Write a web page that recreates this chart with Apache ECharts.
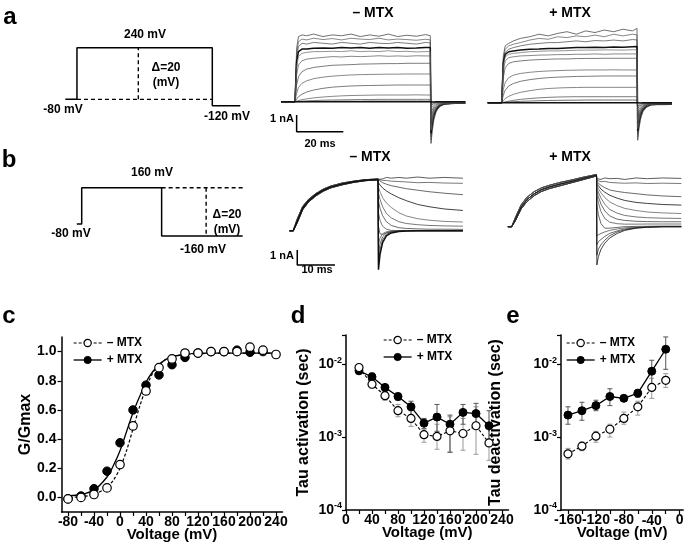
<!DOCTYPE html>
<html>
<head>
<meta charset="utf-8">
<script src="https://cdn.jsdelivr.net/npm/echarts@6/dist/echarts.min.js"></script>
<style>
  html, body { margin: 0; padding: 0; background: #fff; }
  #main { width: 685px; height: 550px; }
</style>
</head>
<body>
<div id="main"></div>
<script>
// ---- protocol (a, b): time (ms) / voltage (mV)
const protoATime = [-5, 0, 0, 58, 58, 70];
const protoAVolt = [-80, -80, 240, 240, -120, -120];
const protoADashH = [[0, -80], [58, -80]];
const protoADashV = [[26.3, -80], [26.3, 240]];
const protoBTime = [-1.3, 0, 0, 21.2, 21.2, 42.7];
const protoBVolt = [-80, -80, 160, 160, -160, -160];
const protoBDashH = [[21.2, 160], [42.7, 160]];
const protoBDashV = [[33, 160], [33, -160]];

// ---- current traces panel a (nA), sampled at tA (ms)
const tA = [-6, 0, 0.7, 1.5, 3, 5, 8, 12, 16, 20, 24, 28, 32, 36, 40, 44, 48, 52, 56, 58,
  58.3, 58.8, 59.5, 60.5, 62, 64, 67, 70, 73];
const aMinusTraces = [
  [0,0,3.2,3.9,4.0,3.95,4.05,3.9,4.0,3.95,4.05,3.9,4.0,3.92,4.05,3.9,3.98,3.92,4.02,3.95, -2.5,-1.8,-1.1,-0.6,-0.3,-0.15,-0.12,-0.1,-0.1],
  [0,0,2.9,3.6,3.75,3.7,3.8,3.72,3.78,3.7,3.8,3.75,3.72,3.8,3.7,3.75,3.72,3.68,3.74,3.7, -2.3,-1.6,-1.0,-0.55,-0.28,-0.15,-0.12,-0.1,-0.1],
  [0,0,2.6,3.3,3.5,3.45,3.55,3.5,3.45,3.55,3.5,3.45,3.55,3.5,3.48,3.55,3.5,3.45,3.55,3.52, -2.1,-1.5,-0.9,-0.5,-0.25,-0.14,-0.11,-0.1,-0.1],
  [0,0,2.4,3.0,3.15,3.15,3.2,3.22,3.2,3.25,3.22,3.25,3.2,3.25,3.22,3.25,3.2,3.22,3.25,3.24, -1.9,-1.3,-0.8,-0.45,-0.22,-0.12,-0.1,-0.1,-0.08],
  [0,0,2.1,2.7,2.9,2.95,3.0,3.0,3.02,3.0,3.05,3.0,3.02,3.0,3.05,3.0,3.02,2.98,3.0,3.0, -1.7,-1.2,-0.7,-0.4,-0.2,-0.1,-0.1,-0.08,-0.08],
  [0,0,1.6,2.2,2.45,2.55,2.6,2.65,2.7,2.68,2.72,2.7,2.72,2.75,2.72,2.74,2.72,2.75,2.74,2.74, -1.5,-1.0,-0.6,-0.35,-0.18,-0.1,-0.08,-0.08,-0.07],
  [0,0,1.0,1.5,1.8,1.95,2.05,2.12,2.18,2.2,2.22,2.25,2.26,2.27,2.28,2.28,2.3,2.3,2.3,2.3, -1.3,-0.85,-0.5,-0.3,-0.15,-0.08,-0.07,-0.06,-0.06],
  [0,0,0.5,0.85,1.1,1.25,1.38,1.47,1.53,1.57,1.6,1.62,1.63,1.64,1.65,1.65,1.66,1.66,1.66,1.66, -1.0,-0.7,-0.4,-0.22,-0.12,-0.06,-0.05,-0.05,-0.05],
  [0,0,0.15,0.3,0.45,0.58,0.7,0.8,0.87,0.91,0.94,0.96,0.97,0.98,0.99,1.0,1.0,1.0,1.0,1.0, -0.75,-0.5,-0.3,-0.16,-0.08,-0.04,-0.03,-0.03,-0.03],
  [0,0,0.03,0.07,0.12,0.17,0.23,0.28,0.32,0.35,0.37,0.38,0.39,0.4,0.4,0.4,0.4,0.41,0.4,0.4, -0.45,-0.3,-0.18,-0.1,-0.05,-0.03,-0.02,-0.02,-0.02],
  [0,0,0.01,0.02,0.03,0.05,0.07,0.09,0.1,0.11,0.12,0.13,0.13,0.14,0.14,0.14,0.14,0.14,0.14,0.14, -0.25,-0.16,-0.1,-0.05,-0.03,-0.02,-0.01,-0.01,-0.01],
  [0,0,0,0,0,0.01,0.01,0.02,0.02,0.03,0.03,0.03,0.04,0.04,0.04,0.04,0.04,0.04,0.04,0.04, -0.12,-0.08,-0.05,-0.03,-0.02,-0.01,-0.01,0,0],
  [0,0,0,0,0,0,0,0,0,0,0,0,0,0,0,0,0,0,0,0, -0.05,-0.03,-0.02,-0.01,0,0,0,0,0]
];
const aPlusTraces = [
  [0,0,2.8,3.4,3.55,3.7,3.85,3.95,4.1,4.0,4.15,4.25,4.1,4.3,4.2,4.35,4.25,4.4,4.3,4.45, -2.25,-1.6,-1.0,-0.55,-0.28,-0.15,-0.12,-0.12,-0.1],
  [0,0,2.6,3.2,3.4,3.5,3.6,3.75,3.85,3.8,3.95,3.9,4.0,3.95,4.05,3.95,4.1,4.0,4.1,4.06, -2.05,-1.45,-0.9,-0.5,-0.25,-0.13,-0.1,-0.1,-0.1],
  [0,0,2.5,3.0,3.2,3.3,3.4,3.5,3.55,3.6,3.6,3.65,3.7,3.65,3.72,3.7,3.75,3.7,3.78,3.76, -1.85,-1.3,-0.8,-0.45,-0.22,-0.12,-0.1,-0.1,-0.09],
  [0,0,2.4,2.9,3.05,3.1,3.15,3.2,3.22,3.25,3.25,3.28,3.3,3.3,3.32,3.3,3.34,3.32,3.35,3.36, -1.7,-1.2,-0.72,-0.4,-0.2,-0.1,-0.09,-0.09,-0.08],
  [0,0,2.2,2.75,2.9,2.95,3.0,3.05,3.08,3.1,3.1,3.12,3.14,3.15,3.15,3.16,3.16,3.15,3.17,3.16, -1.55,-1.1,-0.65,-0.36,-0.18,-0.1,-0.08,-0.08,-0.07],
  [0,0,1.9,2.5,2.7,2.75,2.8,2.82,2.85,2.86,2.88,2.88,2.9,2.9,2.92,2.9,2.92,2.92,2.92,2.92, -1.4,-0.95,-0.58,-0.32,-0.16,-0.08,-0.07,-0.07,-0.06],
  [0,0,1.5,2.1,2.35,2.45,2.5,2.55,2.58,2.6,2.62,2.62,2.64,2.65,2.65,2.66,2.66,2.66,2.66,2.66, -1.25,-0.85,-0.5,-0.28,-0.14,-0.07,-0.06,-0.06,-0.05],
  [0,0,0.8,1.2,1.5,1.65,1.75,1.82,1.87,1.9,1.92,1.94,1.95,1.96,1.96,1.96,1.97,1.96,1.96,1.96, -1.05,-0.7,-0.42,-0.23,-0.12,-0.06,-0.05,-0.05,-0.05],
  [0,0,0.45,0.75,1.0,1.15,1.28,1.38,1.45,1.5,1.53,1.55,1.57,1.58,1.59,1.6,1.6,1.6,1.6,1.6, -0.85,-0.58,-0.34,-0.19,-0.1,-0.05,-0.04,-0.04,-0.04],
  [0,0,0.12,0.25,0.38,0.5,0.62,0.72,0.8,0.85,0.88,0.9,0.91,0.92,0.92,0.92,0.92,0.92,0.92,0.92, -0.6,-0.4,-0.24,-0.13,-0.07,-0.03,-0.03,-0.02,-0.02],
  [0,0,0.02,0.05,0.09,0.14,0.2,0.25,0.29,0.32,0.34,0.35,0.36,0.36,0.36,0.36,0.36,0.36,0.36,0.36, -0.35,-0.23,-0.14,-0.08,-0.04,-0.02,-0.02,-0.01,-0.01],
  [0,0,0.01,0.02,0.04,0.06,0.08,0.1,0.12,0.13,0.14,0.15,0.15,0.16,0.16,0.16,0.16,0.16,0.16,0.16, -0.2,-0.13,-0.08,-0.04,-0.02,-0.01,-0.01,0,0],
  [0,0,0,0,0,0,0,0,0,0,0,0,0,0,0,0,0,0,0,0, -0.05,-0.03,-0.02,-0.01,0,0,0,0,0]
];

// ---- current traces panel b (nA): activation at 160 mV, then tails 160 ... -160 mV
const tB = [-1, 0, 1, 2.5, 4, 6, 8, 10, 13, 16, 19, 22.5,
  22.6, 23, 23.7, 24.7, 26, 28, 30, 33, 36, 40, 45];
const bMinusAct = [
  [0,0,0.6,1.5,1.98,2.4,2.7,2.92,3.12,3.27,3.36,3.42],
  [0,0,0.75,1.62,2.08,2.48,2.78,2.98,3.18,3.3,3.4,3.45],
  [0,0,0.5,1.4,1.9,2.32,2.64,2.86,3.06,3.22,3.33,3.4]
];
const bMinusTails = [
  [3.45,3.5,3.45,3.55,3.5,3.55,3.5,3.58,3.5,3.55,3.5],
  [3.4,3.38,3.35,3.35,3.3,3.28,3.25,3.2,3.22,3.18,3.16],
  [3.35,3.3,3.2,3.1,3.0,2.9,2.8,2.7,2.6,2.5,2.4],
  [3.2,3.05,2.85,2.65,2.45,2.2,2.0,1.75,1.6,1.45,1.35],
  [2.9,2.6,2.2,1.85,1.55,1.2,0.98,0.8,0.7,0.62,0.58],
  [2.5,2.1,1.6,1.15,0.85,0.6,0.48,0.4,0.35,0.32,0.3],
  [2.0,1.5,1.0,0.6,0.35,0.2,0.15,0.12,0.1,0.1,0.09],
  [1.2,0.7,0.3,0.1,0.02,0,0,0,0,0,0],
  [0.3,-0.2,-0.25,-0.15,-0.08,-0.03,0,0,0,0,0],
  [-0.9,-0.5,-0.2,-0.07,-0.02,0,0,0,0,0,0],
  [-1.6,-0.9,-0.4,-0.15,-0.05,-0.02,0,0,0,0,0],
  [-2.2,-1.3,-0.6,-0.25,-0.1,-0.03,0,0,0,0,0],
  [-2.6,-1.6,-0.8,-0.35,-0.15,-0.05,-0.02,0,0,0,0]
];
const bPlusAct = [
  [0,0,0.5,1.3,1.8,2.2,2.48,2.65,2.85,3.03,3.22,3.44],
  [0,0,0.62,1.45,1.95,2.34,2.6,2.76,2.96,3.12,3.3,3.48],
  [0,0,0.4,1.18,1.66,2.08,2.36,2.54,2.74,2.94,3.14,3.38]
];
const bPlusTails = [
  [3.2,3.25,3.15,3.25,3.2,3.22,3.15,3.25,3.2,3.25,3.22],
  [3.1,3.05,3.0,3.02,2.95,2.92,2.9,2.92,2.88,2.9,2.88],
  [3.0,2.9,2.75,2.6,2.45,2.35,2.28,2.2,2.12,2.05,2.0],
  [2.9,2.75,2.5,2.3,2.1,1.9,1.75,1.62,1.55,1.48,1.44],
  [2.8,2.55,2.25,1.95,1.65,1.4,1.22,1.08,0.98,0.92,0.88],
  [2.6,2.3,1.9,1.5,1.15,0.9,0.75,0.65,0.6,0.57,0.55],
  [2.4,2.0,1.5,1.05,0.72,0.5,0.42,0.36,0.34,0.33,0.33],
  [2.1,1.6,1.0,0.55,0.3,0.2,0.17,0.17,0.18,0.18,0.18],
  [1.5,0.8,0.2,-0.1,-0.1,-0.05,0,0.02,0.03,0.04,0.04],
  [-0.6,-0.55,-0.45,-0.35,-0.25,-0.15,-0.08,-0.03,0,0,0],
  [-1.2,-1.0,-0.85,-0.65,-0.45,-0.28,-0.15,-0.06,-0.02,0,0],
  [-1.9,-1.5,-1.2,-0.9,-0.6,-0.35,-0.2,-0.08,-0.03,0,0],
  [-2.55,-2.0,-1.5,-1.1,-0.75,-0.45,-0.25,-0.1,-0.04,0,0]
];

// scale bars: [ms, nA]
const scaleBarA = [[0.7, -0.8], [0.7, -1.8], [20.7, -1.8]];
const scaleBarB = [[1.06, -1.29], [1.06, -2.29], [11.06, -2.29]];

// ---- panel c: G/Gmax
const cVolt = [-80,-60,-40,-20,0,20,40,60,80,100,120,140,160,180,200,220,240];
const cMinus = [-0.01,0.0,0.02,0.065,0.225,0.49,0.73,0.89,0.95,0.99,0.99,1.0,1.0,1.0,1.03,1.01,0.98];
const cPlus = [-0.01,0.01,0.06,0.18,0.375,0.60,0.77,0.84,0.91,0.96,0.99,1.0,1.0,1.01,0.995,1.0];
const cFitVolt = [-85,-80,-60,-40,-20,-10,0,10,20,30,40,50,60,70,80,100,120,160,200,240];
const cFitMinus = [0.0,0.0,0.005,0.02,0.07,0.12,0.2,0.32,0.47,0.62,0.75,0.85,0.91,0.945,0.965,0.98,0.985,0.99,0.99,0.99];
const cFitPlus = [0.005,0.01,0.02,0.05,0.14,0.22,0.32,0.45,0.58,0.69,0.79,0.86,0.91,0.945,0.965,0.98,0.99,0.99,0.99,0.99];
const cXTicks = [-80,-60,-40,-20,0,20,40,60,80,100,120,140,160,180,200,220,240];
const cXLabelStep = 40;
const cYLabels = [0,0.2,0.4,0.6,0.8,1.0];

// ---- panel d: tau activation (s)
const dVolt = [20,40,60,80,100,120,140,160,180,200,220];
const dMinus = [0.0090,0.0053,0.0037,0.0023,0.0018,0.00108,0.00102,0.00122,0.00112,0.00143,0.00083];
const dMinusLo = [0.0082,0.0047,0.0032,0.0019,0.0014,0.00085,0.00068,0.00062,0.00066,0.00058,0.00048];
const dMinusHi = [0.0098,0.0058,0.0043,0.0028,0.0023,0.0013,0.0015,0.0019,0.0018,0.0026,0.0013];
const dPlus = [0.0081,0.0067,0.0048,0.0036,0.0026,0.00155,0.00188,0.00150,0.00218,0.0021,0.00143];
const dPlusLo = [0.0074,0.0058,0.0042,0.0032,0.0020,0.0013,0.0012,0.00062,0.0015,0.0015,0.0009];
const dPlusHi = [0.0088,0.0076,0.0052,0.0040,0.0031,0.0018,0.0028,0.0020,0.0028,0.0029,0.0023];
const dXTicks = [0,20,40,60,80,100,120,140,160,180,200,220,240];

// ---- panel e: tau deactivation (s)
const eVolt = [-160,-140,-120,-100,-80,-60,-40,-20];
const eMinus = [0.00059,0.00075,0.00103,0.00128,0.0018,0.0026,0.0048,0.0060];
const eMinusLo = [0.0005,0.00065,0.00085,0.001,0.0015,0.002,0.0034,0.0048];
const eMinusHi = [0.0007,0.00085,0.0012,0.0015,0.0022,0.0031,0.0064,0.0074];
const ePlus = [0.0020,0.0023,0.0027,0.0036,0.0034,0.0040,0.0080,0.016];
const ePlusLo = [0.0015,0.0017,0.0023,0.0027,0.0032,0.0035,0.0048,0.0085];
const ePlusHi = [0.0026,0.0030,0.0032,0.0046,0.0036,0.0045,0.0113,0.0236];
const eXTicks = [-160,-140,-120,-100,-80,-60,-40,-20,0];
const eXLabels = [-160,-120,-80,0];
const eXLabelsExtra = [-40];   // placed from the axis scale after the first render

const FONT = '"Liberation Sans", Arial, sans-serif';

const chart = echarts.init(document.getElementById('main'), null, { renderer: 'canvas' });

// grid index: 0 protoA, 1 aMinus, 2 aPlus, 3 protoB, 4 bMinus, 5 bPlus, 6 c, 7 d, 8 e
const grids = [
  { left: 65.3, top: 44.5, width: 175, height: 64.5 },
  { left: 281, top: 26.55, width: 184.3, height: 125.25 },
  { left: 487.7, top: 27.55, width: 184.3, height: 125.25 },
  { left: 76.8, top: 184.7, width: 165.9, height: 54.4 },
  { left: 289.5, top: 170.7, width: 173.4, height: 105 },
  { left: 507.9, top: 166.7, width: 173.4, height: 105 },
  { left: 61.5, top: 337, width: 221, height: 175 },
  { left: 346, top: 335, width: 162.5, height: 175 },
  { left: 561, top: 335, width: 122.2, height: 175 }
].map(g => Object.assign({ outerBoundsMode: 'none', containLabel: false }, g));

function hiddenX(gridIndex, min, max) {
  return { type: 'value', gridIndex, min, max, show: false };
}
function hiddenY(gridIndex, min, max) {
  return { type: 'value', gridIndex, min, max, show: false };
}

const LABEL_MARGIN = 3;
const axisLineStyle = { show: true, onZero: false, lineStyle: { color: '#000', width: 1.5 } };
const tickStyle = { show: true, inside: false, length: 4, lineStyle: { color: '#000', width: 1.2 } };
const labelStyle = {
  color: '#000', fontFamily: FONT, fontWeight: 'bold', fontSize: 14,
  hideOverlap: false
};
const nameStyle = { color: '#000', fontFamily: FONT, fontWeight: 'bold', fontSize: 15 };
const voltFormatter = v => (Math.round(v) % cXLabelStep === 0 ? String(Math.round(v)) : '');

function voltAxis(gridIndex, min, max, ticks, labels) {
  return {
    type: 'value', gridIndex, min, max, position: 'bottom',
    name: 'Voltage (mV)', nameLocation: 'middle', nameGap: 15, nameMoveOverlap: false,
    nameTextStyle: nameStyle,
    axisLine: axisLineStyle,
    axisTick: Object.assign({ customValues: ticks }, tickStyle),
    axisLabel: Object.assign({ customValues: labels, margin: LABEL_MARGIN, formatter: voltFormatter }, labelStyle),
    splitLine: { show: false }
  };
}

function logFormatter(v) {
  const l = Math.log10(v);
  const p = Math.round(l);
  if (Math.abs(l - p) > 1e-6) return '';
  return '{b|10}{s|' + p + '}';
}
function tauAxis(gridIndex, name, gap) {
  return {
    type: 'log', logBase: 10, gridIndex, min: 1e-4, max: 0.0251,
    name, nameLocation: 'middle', nameGap: gap, nameMoveOverlap: false,
    nameTextStyle: Object.assign({}, nameStyle, { fontSize: 16 }),
    axisLine: axisLineStyle,
    axisTick: tickStyle,
    axisLabel: {
      formatter: logFormatter, margin: 4, hideOverlap: false,
      rich: {
        b: { fontFamily: FONT, fontWeight: 'bold', fontSize: 14, color: '#000' },
        s: { fontFamily: FONT, fontWeight: 'bold', fontSize: 9, color: '#000', padding: [0, 0, 8, 0] }
      }
    },
    splitLine: { show: false },
    minorTick: { show: false }
  };
}

const xAxes = [
  hiddenX(0, -5, 70), hiddenX(1, -6, 73), hiddenX(2, -6, 73),
  hiddenX(3, -1.3, 42.7), hiddenX(4, -1, 45), hiddenX(5, -1, 45),
  voltAxis(6, -90, 250, cXTicks, cXTicks),
  voltAxis(7, 0, 250, dXTicks, dXTicks),
  voltAxis(8, -170, 5, eXTicks, eXLabels)
];
const yAxes = [
  hiddenY(0, -140, 260), hiddenY(1, -3, 4.5), hiddenY(2, -3, 4.5),
  hiddenY(3, -180, 180), hiddenY(4, -3, 4), hiddenY(5, -3, 4),
  {
    type: 'value', gridIndex: 6, min: -0.1, max: 1.1,
    name: 'G/Gmax', nameLocation: 'middle', nameGap: 28, nameMoveOverlap: false,
    nameTextStyle: Object.assign({}, nameStyle, { fontSize: 16 }),
    axisLine: axisLineStyle,
    axisTick: Object.assign({ customValues: cYLabels }, tickStyle),
    axisLabel: Object.assign({ customValues: cYLabels, margin: 5, formatter: v => v.toFixed(1) }, labelStyle),
    splitLine: { show: false }
  },
  tauAxis(7, 'Tau activation (sec)', 34),
  tauAxis(8, 'Tau deactivation (sec)', 57)
];

const series = [];
function pairs(xs, ys) { return xs.map((x, i) => [x, ys[i]]); }
function plainLine(gi, data, opts) {
  return Object.assign({
    type: 'line', xAxisIndex: gi, yAxisIndex: gi, data,
    showSymbol: false, symbol: 'none', silent: true, animation: false,
    lineStyle: { color: '#000', width: 1.5 }, z: 2
  }, opts || {});
}

// protocols
series.push(plainLine(0, pairs(protoATime, protoAVolt)));
series.push(plainLine(0, protoADashH, { lineStyle: { color: '#000', width: 1.4, type: [4, 3] } }));
series.push(plainLine(0, protoADashV, { lineStyle: { color: '#000', width: 1.4, type: [4, 3] } }));
series.push(plainLine(3, pairs(protoBTime, protoBVolt)));
series.push(plainLine(3, protoBDashH, { lineStyle: { color: '#000', width: 1.4, type: [4, 3] } }));
series.push(plainLine(3, protoBDashV, { lineStyle: { color: '#000', width: 1.4, type: [4, 3] } }));

// traces
const traceGrey = ['#333', '#555', '#444', '#111', '#666', '#555', '#444', '#555', '#444', '#555', '#444', '#333', '#111'];
aMinusTraces.forEach((tr, i) => {
  const thick = (i === 3 || i === 12);
  series.push(plainLine(1, pairs(tA, tr), { lineStyle: { color: traceGrey[i], width: thick ? 1.5 : 0.7 } }));
});
aPlusTraces.forEach((tr, i) => {
  const thick = (i === 3 || i === 12);
  series.push(plainLine(2, pairs(tA, tr), { lineStyle: { color: traceGrey[i], width: thick ? 1.5 : 0.7 } }));
});
bMinusTails.forEach((tail, i) => {
  const vals = bMinusAct[i % 3].concat(tail);
  const thick = (i === bMinusTails.length - 1);
  series.push(plainLine(4, pairs(tB, vals), { lineStyle: { color: traceGrey[i], width: thick ? 1.5 : 0.8 } }));
});
bPlusTails.forEach((tail, i) => {
  const vals = bPlusAct[i % 3].concat(tail);
  series.push(plainLine(5, pairs(tB, vals), { lineStyle: { color: traceGrey[i], width: 0.8 } }));
});
series.push(plainLine(1, scaleBarA, { lineStyle: { color: '#000', width: 1.5 } }));
series.push(plainLine(4, scaleBarB, { lineStyle: { color: '#000', width: 1.5 } }));

// panel c
series.push(plainLine(6, pairs(cFitVolt, cFitMinus), { smooth: 0.3, lineStyle: { color: '#000', width: 1.2, type: [3, 2] } }));
series.push(plainLine(6, pairs(cFitVolt, cFitPlus), { smooth: 0.3, lineStyle: { color: '#000', width: 1.3 } }));

const openSym = { color: '#fff', borderColor: '#000', borderWidth: 1.2 };
const fillSym = { color: '#000', borderColor: '#000', borderWidth: 1 };
function pointSeries(gi, name, xs, ys, filled, connect, size) {
  return {
    type: 'line', name, xAxisIndex: gi, yAxisIndex: gi, data: pairs(xs, ys),
    symbol: 'circle', symbolSize: size, showSymbol: true, silent: true, animation: false,
    itemStyle: filled ? fillSym : openSym,
    lineStyle: connect
      ? { color: '#000', width: filled ? 1.3 : 1.1, type: filled ? 'solid' : [3, 2] }
      : { opacity: 0, width: 0.01 },
    z: filled ? 4 : 5
  };
}
function errSeries(gi, xs, lo, hi, color) {
  return {
    type: 'custom', xAxisIndex: gi, yAxisIndex: gi, silent: true, animation: false, z: 1,
    data: xs.map((x, i) => [x, lo[i], hi[i]]),
    encode: { x: 0, y: [1, 2] },
    renderItem: (params, api) => {
      const x = api.value(0);
      const a = api.coord([x, api.value(1)]);
      const b = api.coord([x, api.value(2)]);
      const st = { stroke: color, lineWidth: 1 };
      return {
        type: 'group', children: [
          { type: 'line', shape: { x1: a[0], y1: a[1], x2: b[0], y2: b[1] }, style: st },
          { type: 'line', shape: { x1: a[0] - 2.5, y1: a[1], x2: a[0] + 2.5, y2: a[1] }, style: st },
          { type: 'line', shape: { x1: b[0] - 2.5, y1: b[1], x2: b[0] + 2.5, y2: b[1] }, style: st }
        ]
      };
    }
  };
}
series.push(pointSeries(6, '– MTX', cVolt, cMinus, false, false, 8.5));
series.push(pointSeries(6, '+ MTX', cVolt.slice(0, cPlus.length), cPlus, true, false, 8.5));

// panel d
series.push(errSeries(7, dVolt, dMinusLo, dMinusHi, '#999'));
series.push(errSeries(7, dVolt, dPlusLo, dPlusHi, '#555'));
series.push(pointSeries(7, '– MTX', dVolt, dMinus, false, true, 8));
series.push(pointSeries(7, '+ MTX', dVolt, dPlus, true, true, 8));

// panel e
series.push(errSeries(8, eVolt, eMinusLo, eMinusHi, '#999'));
series.push(errSeries(8, eVolt, ePlusLo, ePlusHi, '#555'));
series.push(pointSeries(8, '– MTX', eVolt, eMinus, false, true, 8));
series.push(pointSeries(8, '+ MTX', eVolt, ePlus, true, true, 8));

const legendItems = [
  { name: '– MTX', lineStyle: { type: [3, 2], width: 1.1, color: '#000', opacity: 1 }, itemStyle: openSym },
  { name: '+ MTX', lineStyle: { type: 'solid', width: 1.3, color: '#000', opacity: 1 }, itemStyle: fillSym }
];
function legendAt(left, top) {
  return {
    left, top, orient: 'vertical', data: legendItems, selectedMode: false,
    itemWidth: 28, itemHeight: 9, itemGap: 5, padding: 0,
    textStyle: { color: '#000', fontFamily: FONT, fontWeight: 'bold', fontSize: 12 }
  };
}
const legends = [legendAt(73, 337), legendAt(383, 334), legendAt(566, 337)];

// annotation text: [text, x, y, size]
const labels = [
  ['a', 10, 17, 24], ['b', 9, 160, 24], ['c', 9, 316, 24], ['d', 298, 316, 24], ['e', 513, 316, 24],
  ['240 mV', 145, 35, 12], ['Δ=20', 166, 68, 12], ['(mV)', 166, 83, 12],
  ['-80 mV', 63, 110, 12], ['-120 mV', 227, 117, 12],
  ['– MTX', 373, 13, 14], ['+ MTX', 570, 13, 14],
  ['1 nA', 282, 119, 11], ['20 ms', 320, 144, 11],
  ['160 mV', 152, 173, 12], ['-80 mV', 71, 234, 12], ['Δ=20', 227, 215, 12], ['(mV)', 227, 230, 12],
  ['-160 mV', 203, 250, 12],
  ['– MTX', 370, 157, 14], ['+ MTX', 570, 157, 14],
  ['1 nA', 282, 256, 11], ['10 ms', 317, 270, 11]
];
const graphicEls = labels.map(([text, x, y, size]) => ({
  type: 'text', x, y, silent: true,
  style: {
    text, fill: '#000', font: 'bold ' + size + 'px ' + FONT,
    textAlign: 'center', textVerticalAlign: 'middle'
  }
}));

chart.setOption({
  animation: false,
  backgroundColor: '#fff',
  grid: grids,
  xAxis: xAxes,
  yAxis: yAxes,
  legend: legends,
  graphic: { elements: graphicEls },
  series
});

// panel e: the -40 tick label does not show up from the axis itself,
// so put it at the axis position of that value, same style as the other labels
const extraEls = eXLabelsExtra.map(v => {
  const p = chart.convertToPixel({ gridIndex: 8 }, [v, 1e-4]);
  return {
    type: 'text', x: p[0], y: p[1] + LABEL_MARGIN + 1, silent: true,
    style: {
      text: voltFormatter(v), fill: '#000', font: 'bold 14px ' + FONT,
      textAlign: 'center', textVerticalAlign: 'top'
    }
  };
});
chart.setOption({ graphic: { elements: graphicEls.concat(extraEls) } });
</script>
</body>
</html>
